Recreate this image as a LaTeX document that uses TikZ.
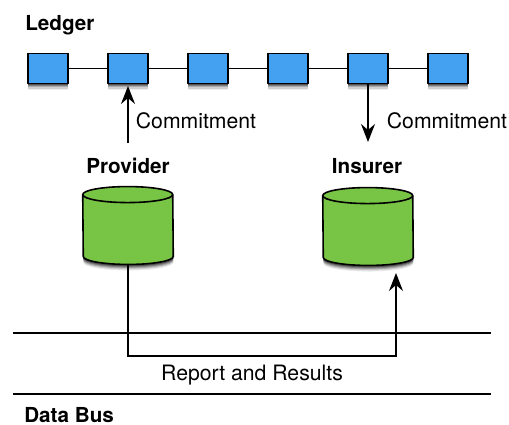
\documentclass[tikz,border=0pt]{standalone}
\usepackage{fontspec}
\setmainfont{TeX Gyre Heros}
\usetikzlibrary{arrows.meta,shadows,calc}
\definecolor{blockblue}{HTML}{44A1F1}
\definecolor{storegreen}{HTML}{78C546}
\tikzset{
  x=0.75pt,y=-0.75pt,
  softshadow/.style={
    general shadow={shadow xshift=0pt,shadow yshift=-4.6pt,fill=black,opacity=.07},
    general shadow={shadow xshift=0pt,shadow yshift=-3.8pt,fill=black,opacity=.12},
    general shadow={shadow xshift=0pt,shadow yshift=-3.0pt,fill=black,opacity=.18},
    general shadow={shadow xshift=0pt,shadow yshift=-2.2pt,fill=black,opacity=.25},
    general shadow={shadow xshift=0pt,shadow yshift=-1.4pt,fill=black,opacity=.35}},
  block/.style={draw=black,line width=1.3pt,fill=blockblue,minimum width=30pt,minimum height=22.5pt,inner sep=0pt,softshadow},
  store/.style={minimum width=67.5pt,minimum height=58pt,inner sep=0pt},
  storeskin/.style={draw=black,line width=1.2pt,fill=storegreen},
  link/.style={line width=1.1pt},
  flow/.style={line width=1.2pt,-{Stealth[length=13.5pt,width=10.5pt,inset=4.5pt]}},
  heading/.style={font=\fontsize{15.5pt}{18pt}\selectfont\bfseries,inner sep=0pt},
  caption/.style={font=\fontsize{15.9pt}{18pt}\selectfont,inner sep=0pt},
}
\newcommand{\storebody}[1]{%
  \path[storeskin,softshadow] ($(#1.north west)+(0,8)$) arc[start angle=180,end angle=0,x radius=33.75pt,y radius=6pt]
     -- ($(#1.south east)+(0,-8)$) arc[start angle=360,end angle=180,x radius=33.75pt,y radius=6pt] -- cycle;
  \draw[line width=1.2pt] ($(#1.north west)+(0,8)$) arc[start angle=180,end angle=360,x radius=33.75pt,y radius=6pt];
}
\begin{document}
\begin{tikzpicture}
\useasboundingbox (0,0) rectangle (509,424);
\fill[white] (0,0) rectangle (509,424);
% rails
\coordinate (railAl) at (13,333); \coordinate (railAr) at (491,333);
\coordinate (railBl) at (13,394); \coordinate (railBr) at (491,394);
\draw[link] (railAl) -- (railAr);
\draw[link] (railBl) -- (railBr);
% ledger
\foreach \n/\x in {a/48,b/128,c/208,d/288,e/368,f/448}
  \node[block] (\n) at (\x,68.5) {};
\foreach \p/\q in {a/b,b/c,c/d,d/e,e/f}
  \draw[link] (\p) -- (\q);
% stores
\node[store] (prov) at (128,225.5) {};
\node[store] (insu) at (368,226.5) {};
\storebody{prov}
\storebody{insu}
% labels
\node[heading,anchor=west] (ledger) at (25,25) {Ledger};
\node[heading] (provl) at (128,166) {Provider};
\node[heading] (insl) at (367,166) {Insurer};
\node[heading,anchor=west] (bus) at (24,415.5) {Data Bus};
\node[caption] (c1) at (196,120.5) {Commitment};
\node[caption] (c2) at (447,120.5) {Commitment};
\node[caption] (rr) at (252,375.5) {Report and Results};
% connectors
\coordinate (upstart) at (128,143);
\coordinate (uptip) at (128,86);
\coordinate (downtip) at (368,142);
\coordinate (rrtip) at (396,273);
\draw[flow] (upstart) -- (uptip);
\draw[flow] (e.south) -- (downtip);
\draw[flow] (prov.south) |- (396,356) -- (rrtip);
\end{tikzpicture}
\end{document}
